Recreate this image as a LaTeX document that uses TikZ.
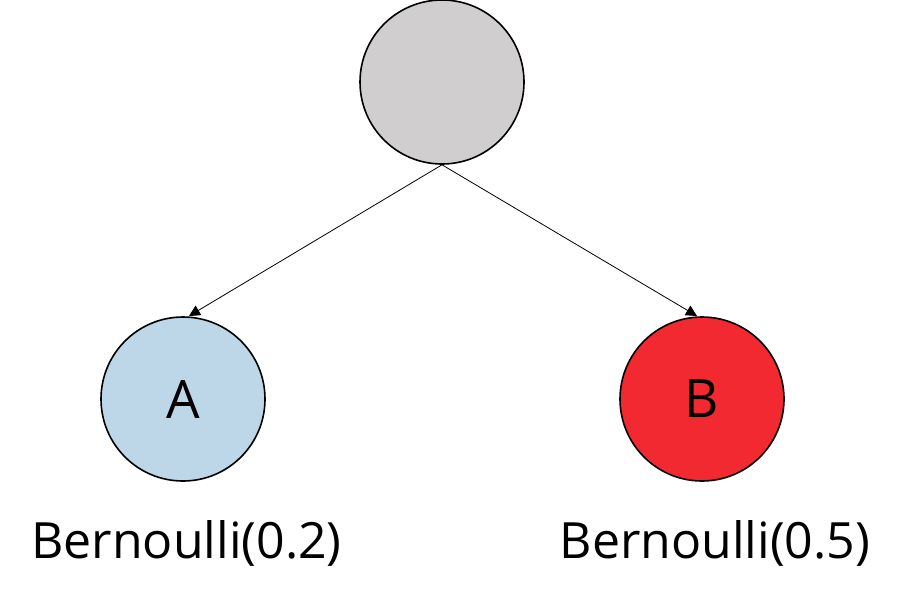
\documentclass[tikz,border=0pt]{standalone}
\usepackage{fontspec}
\setmainfont{Open Sans}
\usetikzlibrary{arrows.meta}
\definecolor{topgray}{RGB}{208,206,207}
\definecolor{bluea}{RGB}{189,215,233}
\definecolor{redb}{RGB}{242,41,48}
\tikzset{
  circ/.style={circle, draw=black, line width=1.6pt, minimum size=164pt, inner sep=0pt},
  lbl/.style={font=\fontsize{50}{60}\selectfont, inner sep=0pt, anchor=base},
  conn/.style={draw=black, line width=0.8pt, -{Triangle[length=11pt,width=11pt]}}
}
\begin{document}
\begin{tikzpicture}[x=1pt,y=-1pt]
\useasboundingbox (0,0) rectangle (901,598);
\node[circ, fill=topgray] (top) at (442,82) {};
\node[circ, fill=bluea, font=\fontsize{53}{60}\selectfont] (A) at (183,399) {A};
\node[circ, fill=redb, font=\fontsize{53}{60}\selectfont] (B) at (702,399) {B};
\coordinate (ta) at (189,316);
\coordinate (tb) at (697,316);
\draw[conn] (top.south) -- (ta);
\draw[conn] (top.south) -- (tb);
\node[lbl] (la) at (186.5,558) {Bernoulli(0.2)};
\node[lbl] (lb) at (715,558) {Bernoulli(0.5)};
\end{tikzpicture}
\end{document}
